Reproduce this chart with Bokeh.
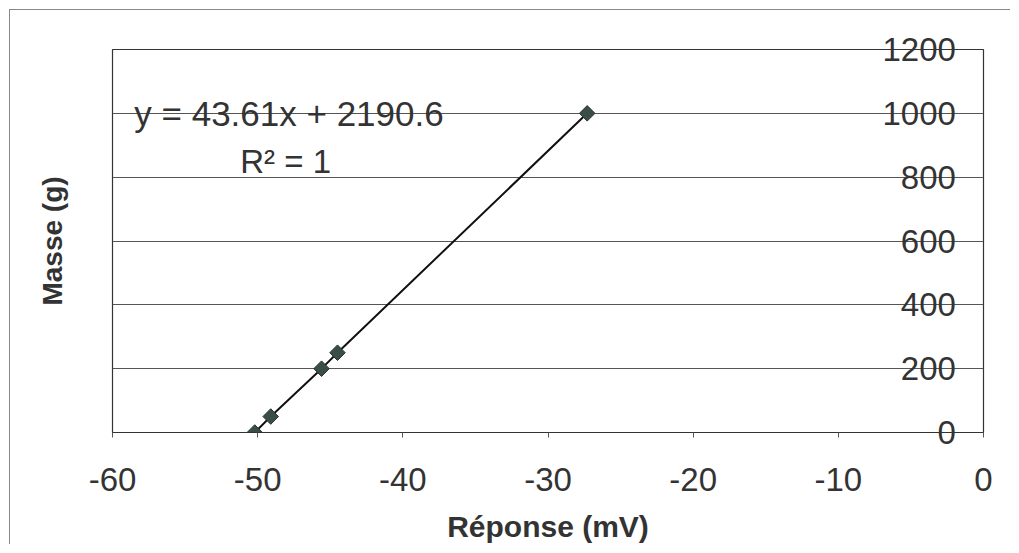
import math
from bokeh.plotting import figure
from bokeh.models import ColumnDataSource, Label, FixedTicker, Range1d, LinearAxis
from bokeh.embed import file_html
from bokeh.resources import INLINE

# ---- data ----
reponse_mv = [-50.2, -49.1, -45.6, -44.5, -27.3]
masse_g = [0, 50, 200, 250, 1000]
x_ticks = [-60, -50, -40, -30, -20, -10, 0]
x_tick_labels = [str(v) for v in x_ticks]
y_ticks = [0, 200, 400, 600, 800, 1000, 1200]
y_tick_labels = [str(v) for v in y_ticks]
equation_text = "y = 43.61x + 2190.6"
r2_text = "R² = 1"
x_title = "Réponse (mV)"
y_title = "Masse (g)"

FONT = "Liberation Sans"
TXT = "#333333"

p = figure(width=1001, height=535,
           x_range=Range1d(x_ticks[0], x_ticks[-1]),
           y_range=Range1d(y_ticks[0], y_ticks[-1]),
           output_backend="svg", toolbar_location=None,
           min_border_left=102, min_border_right=28,
           min_border_top=39, min_border_bottom=113)
p.styles = {"border-top": "1px solid #888888", "border-left": "1px solid #888888",
            "margin-left": "9px", "margin-top": "9px"}

p.outline_line_color = "#333333"
p.outline_line_width = 1.2
p.background_fill_color = "white"
p.border_fill_color = "white"

# grid
p.xgrid.visible = False
p.ygrid.ticker = FixedTicker(ticks=y_ticks)
p.ygrid.grid_line_color = "#555555"
p.ygrid.grid_line_width = 1.2

# x axis
xa = p.xaxis[0]
xa.ticker = FixedTicker(ticks=x_ticks)
xa.major_label_overrides = {t: s for t, s in zip(x_ticks, x_tick_labels)}
xa.axis_line_color = "#333333"
xa.major_tick_line_color = "#555555"
xa.major_tick_out = 5
xa.major_tick_in = 0
xa.minor_tick_line_color = None
xa.major_label_text_font = FONT
xa.major_label_text_font_size = "33px"
xa.major_label_text_color = TXT
xa.major_label_standoff = 30
xa.axis_label = x_title
xa.axis_label_text_font = FONT
xa.axis_label_text_font_size = "30px"
xa.axis_label_text_font_style = "bold"
xa.axis_label_text_color = TXT
xa.axis_label_standoff = 16

# left y axis: title only
ya = p.yaxis[0]
ya.ticker = FixedTicker(ticks=[])
ya.axis_line_color = None
ya.major_tick_line_color = None
ya.minor_tick_line_color = None
ya.major_label_standoff = 0
ya.axis_label = y_title
ya.axis_label_text_font = FONT
ya.axis_label_text_font_size = "28px"
ya.axis_label_text_font_style = "bold"
ya.axis_label_text_color = TXT
ya.axis_label_standoff = 45

# right y axis (crosses at x = 0): labels drawn inside the frame
width_digits = max(len(s) for s in y_tick_labels)
ry = LinearAxis(ticker=FixedTicker(ticks=y_ticks),
                major_label_overrides={t: "\u2007" * (width_digits - len(s)) + s
                                       for t, s in zip(y_ticks, y_tick_labels)},
                axis_line_color=None, major_tick_line_color=None, minor_tick_line_color=None,
                major_tick_out=0, major_tick_in=0,
                major_label_standoff=-101,
                major_label_text_font=FONT, major_label_text_font_size="33px",
                major_label_text_color=TXT)
p.add_layout(ry, "right")

# series
src = ColumnDataSource(dict(x=reponse_mv, y=masse_g))
p.line("x", "y", source=src, line_color="#111111", line_width=2)
p.scatter("x", "y", source=src, marker="square", size=11, angle=math.pi / 4,
          fill_color="#3b4d48", line_color="#2a3532", line_width=1)

# trendline annotation
p.add_layout(Label(x=-58.5, y=1000, text=equation_text, text_baseline="middle",
                   text_font=FONT, text_font_size="35px", text_color=TXT))
p.add_layout(Label(x=-51.2, y=849, text=r2_text, text_baseline="middle",
                   text_font=FONT, text_font_size="33px", text_color=TXT))

open("out.html", "w").write(file_html(p, INLINE))
